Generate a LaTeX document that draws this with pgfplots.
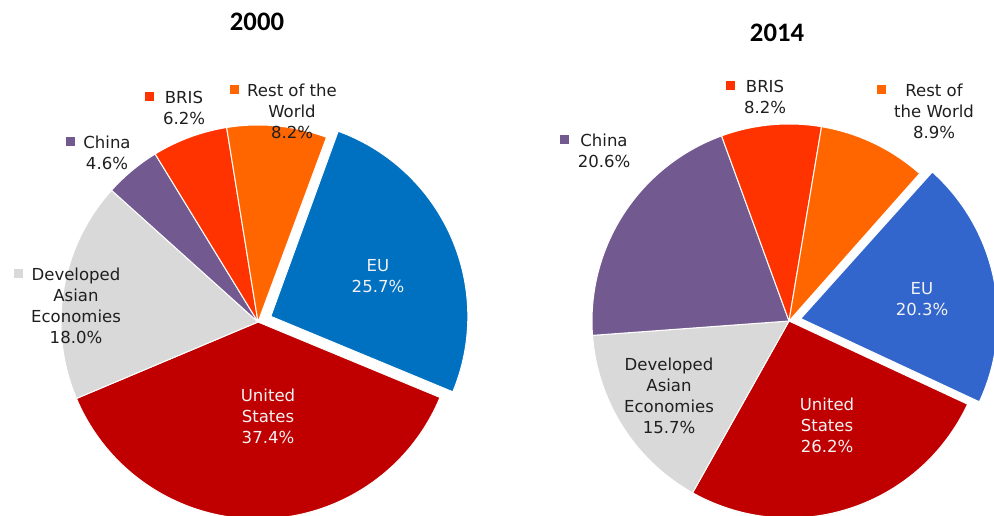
\documentclass[border=0pt]{standalone}
\usepackage{pgfplots}
\pgfplotsset{compat=1.18}
\usepackage{fontspec}
\setmainfont{DejaVu Sans}
\newfontfamily\titlefont{Carlito}

\definecolor{euA}{HTML}{0070C0}
\definecolor{euB}{HTML}{3366CC}
\definecolor{usa}{HTML}{C00000}
\definecolor{dae}{HTML}{D9D9D9}
\definecolor{chn}{HTML}{725A90}
\definecolor{bris}{HTML}{FF3300}
\definecolor{row}{HTML}{FF6600}
\definecolor{txt}{HTML}{1F1F1F}
\definecolor{wtxt}{HTML}{F2F2F2}

% pie radius in pixel units of the axis
\def\R{197}
% one wedge, clockwise from \astart: cx, cy, share (%), colour, pull-out
\newcommand\slice[5]{%
  \pgfmathsetmacro\aend{\astart-3.6*#3}%
  \pgfmathsetmacro\amid{(\astart+\aend)/2}%
  \pgfmathsetmacro\ox{#1+#5*cos(\amid)}%
  \pgfmathsetmacro\oy{#2-#5*sin(\amid)}%
  \edef\doslice{\noexpand\addplot[fill=#4, draw=white, line width=0.75pt,
    line join=round, domain=\aend:\astart, samples=90]
    ({\ox+\R*cos(x)}, {\oy-\R*sin(x)}) -- (axis cs:\ox,\oy) -- cycle;}%
  \doslice
  \global\let\astart\aend
}

\begin{document}
\begin{tikzpicture}[
  lbl/.style={font=\fontsize{12.4}{15.75}\selectfont, align=center,
              inner sep=0pt, text=txt},
  wlbl/.style={lbl, text=wtxt},
  key/.style={fill=#1, inner sep=0pt, minimum size=6.75pt, anchor=north east},
  ttl/.style={font=\titlefont\bfseries\fontsize{20}{24}\selectfont, text=black}]
\begin{axis}[
  scale only axis, width=745.5pt, height=387pt,
  xmin=0, xmax=994, ymin=0, ymax=516, y dir=reverse,
  hide axis, clip=true]

% 2000
\def\astart{70}
\slice{258}{322}{25.7}{euA}{14}  % EU
\slice{258}{322}{37.4}{usa}{0}   % United States
\slice{258}{322}{18.0}{dae}{0}   % Developed Asian Economies
\slice{258}{322}{4.6}{chn}{0}    % China
\slice{258}{322}{6.2}{bris}{0}   % BRIS
\slice{258}{322}{8.2}{row}{0}    % Rest of the World

% 2014
\def\astart{48.1}
\slice{789}{321}{20.3}{euB}{12}
\slice{789}{321}{26.2}{usa}{0}
\slice{789}{321}{15.7}{dae}{0}
\slice{789}{321}{20.6}{chn}{0}
\slice{789}{321}{8.2}{bris}{0}
\slice{789}{321}{8.9}{row}{0}

\node[ttl] at (axis cs:257,22) {2000};
\node[ttl] at (axis cs:777,33) {2014};

% labels 2000
\node[lbl] (a1) at (axis cs:184,107.5) {BRIS\\6.2\%};
\node[key=bris] at ([xshift=-6pt,yshift=-0.75pt]a1.north west) {};
\node[lbl] (a2) at (axis cs:292,111) {Rest of the\\World\\8.2\%};
\node[key=row] at ([xshift=-6pt,yshift=-0.75pt]a2.north west) {};
\node[lbl] (a3) at (axis cs:107,153) {China\\4.6\%};
\node[key=chn] at ([xshift=-6pt,yshift=-0.75pt]a3.north west) {};
\node[lbl] (a4) at (axis cs:76,306) {Developed\\Asian\\Economies\\18.0\%};
\node[key=dae] at ([xshift=-6pt,yshift=-0.75pt]a4.north west) {};
\node[wlbl] at (axis cs:378,276.5) {EU\\25.7\%};
\node[wlbl] at (axis cs:268,416) {United\\States\\37.4\%};

% labels 2014
\node[lbl] (b1) at (axis cs:765,96.5) {BRIS\\8.2\%};
\node[key=bris] at ([xshift=-6pt,yshift=-0.75pt]b1.north west) {};
\node[lbl] (b2) at (axis cs:934,111) {Rest of\\the World\\8.9\%};
\node[key=row] at ([xshift=-6pt,yshift=-0.75pt]b2.north west) {};
\node[lbl] (b3) at (axis cs:604,151) {China\\20.6\%};
\node[key=chn] at ([xshift=-6pt,yshift=-0.75pt]b3.north west) {};
\node[lbl] at (axis cs:669,395.5) {Developed\\Asian\\Economies\\15.7\%};
\node[wlbl] at (axis cs:922,299.5) {EU\\20.3\%};
\node[wlbl] at (axis cs:827,425) {United\\States\\26.2\%};
\end{axis}
\pgfresetboundingbox
\useasboundingbox (current axis.south west) rectangle (current axis.north east);
\end{tikzpicture}
\end{document}
